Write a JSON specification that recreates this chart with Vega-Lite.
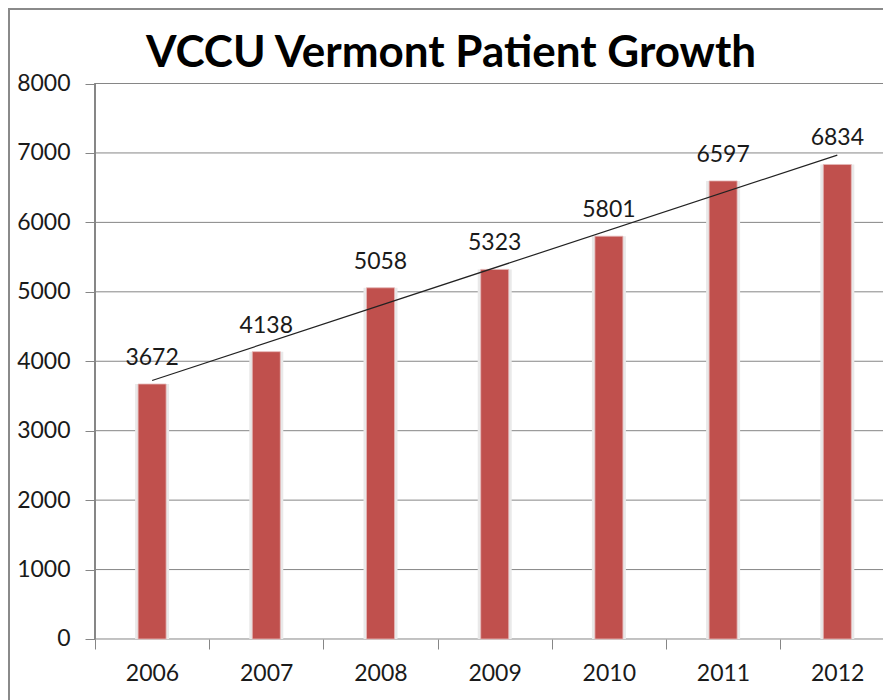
{
  "$schema": "https://vega.github.io/schema/vega-lite/v6.json",
  "autosize": "none",
  "padding": {"left": 9, "top": 9, "right": 0, "bottom": 0},
  "width": 874,
  "height": 691,
  "background": "white",
  "config": {
    "view": {"stroke": "#8a8a8a", "strokeWidth": 2, "strokeDash": [874, 1565, 691, 1]},
    "font": "Lato"
  },
  "title": {
    "text": "VCCU Vermont Patient Growth",
    "font": "Lato",
    "fontSize": 44,
    "fontWeight": "bold",
    "color": "#000000",
    "anchor": "middle",
    "dx": 5,
    "offset": -67
  },
  "data": {
    "values": [
      {"year": 2006, "patients": 3672},
      {"year": 2007, "patients": 4138},
      {"year": 2008, "patients": 5058},
      {"year": 2009, "patients": 5323},
      {"year": 2010, "patients": 5801},
      {"year": 2011, "patients": 6597},
      {"year": 2012, "patients": 6834}
    ]
  },
  "layer": [
    {
      "data": {"values": [{"patients": 0}, {"patients": 1000}, {"patients": 2000}, {"patients": 3000}, {"patients": 4000}, {"patients": 5000}, {"patients": 6000}, {"patients": 7000}, {"patients": 8000}]},
      "mark": {"type": "rule", "color": "#868686", "strokeWidth": 1},
      "encoding": {
        "y": {"field": "patients", "type": "quantitative"},
        "x": {"datum": 2005.5, "type": "quantitative"},
        "x2": {"datum": 2012.4}
      }
    },
    {
      "mark": {"type": "rule", "color": "#868686", "strokeWidth": 1},
      "encoding": {
        "x": {"datum": 2005.5, "type": "quantitative"},
        "y": {"datum": 0, "type": "quantitative"},
        "y2": {"datum": 8000}
      }
    },
    {
      "mark": {"type": "bar", "color": "#e9e9e9", "size": 34},
      "encoding": {
        "x": {"field": "year", "type": "quantitative"},
        "y": {"field": "patients", "type": "quantitative"}
      }
    },
    {
      "mark": {"type": "bar", "color": "#C0504D", "size": 28, "stroke": "#e6b8b7", "strokeWidth": 0.8},
      "encoding": {
        "x": {
          "field": "year",
          "type": "quantitative",
          "scale": {"domain": [2004.747, 2012.4], "nice": false, "zero": false, "padding": 0},
          "axis": {
            "title": null,
            "values": [2005.5, 2006.5, 2007.5, 2008.5, 2009.5, 2010.5, 2011.5],
            "labelExpr": "format(datum.value + 0.5, 'd')",
            "labelOffset": 57,
            "offset": -61,
            "domain": false,
            "grid": false,
            "ticks": true,
            "tickSize": 10,
            "tickColor": "#868686",
            "tickWidth": 1,
            "labelFontSize": 23,
            "labelFont": "Lato",
            "labelColor": "#1a1a1a",
            "labelPadding": 13,
            "labelFlush": false,
            "labelOverlap": false
          }
        },
        "y": {
          "field": "patients",
          "type": "quantitative",
          "scale": {"domain": [-878.5, 9073], "nice": false, "zero": false, "padding": 0},
          "axis": {
            "title": null,
            "values": [0, 1000, 2000, 3000, 4000, 5000, 6000, 7000, 8000],
            "format": "d",
            "offset": -86,
            "domain": false,
            "grid": false,
            "ticks": true,
            "tickSize": 10,
            "tickColor": "#868686",
            "tickWidth": 1,
            "labelFontSize": 23,
            "labelFont": "Lato",
            "labelColor": "#1a1a1a",
            "labelPadding": 15,
            "labelFlush": false,
            "labelOverlap": false
          }
        }
      }
    },
    {
      "mark": {"type": "text", "fontSize": 23, "font": "Lato", "color": "#1a1a1a", "baseline": "alphabetic", "dy": -19},
      "encoding": {
        "x": {"field": "year", "type": "quantitative"},
        "y": {"field": "patients", "type": "quantitative"},
        "text": {"field": "patients", "type": "quantitative", "format": "d"}
      }
    },
    {
      "transform": [{"regression": "patients", "on": "year"}],
      "mark": {"type": "line", "color": "#222222", "strokeWidth": 1.2},
      "encoding": {
        "x": {"field": "year", "type": "quantitative"},
        "y": {"field": "patients", "type": "quantitative"}
      }
    }
  ]
}
